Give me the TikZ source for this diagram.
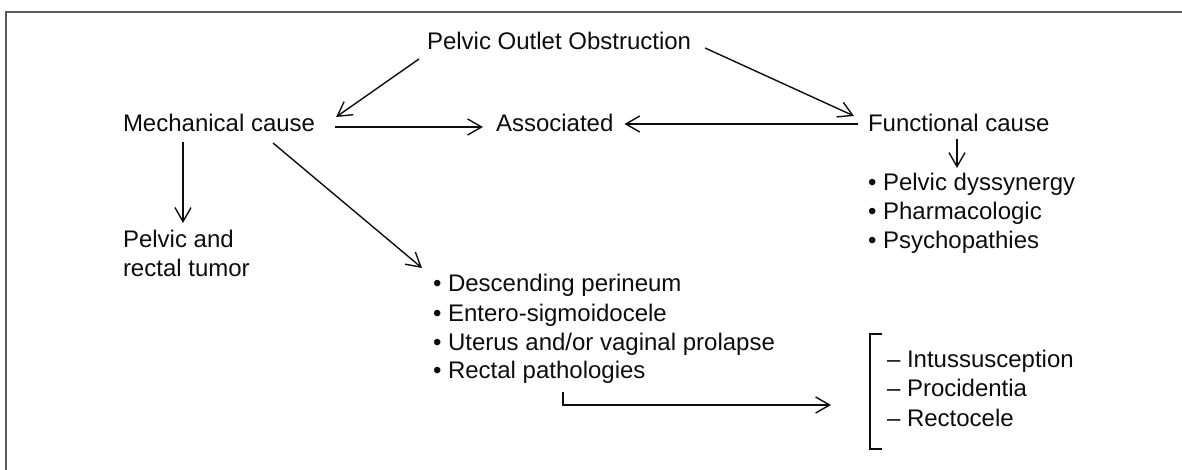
\documentclass[tikz,border=0pt]{standalone}
\usepackage{fontspec}
\setmainfont{Liberation Sans}
\usetikzlibrary{arrows.meta,calc}
\begin{document}
\begin{tikzpicture}[x=0.5pt,y=-0.5pt,
  lbl/.style={anchor=base west,inner sep=0pt,outer sep=0pt,text=black!95,
              font=\fontsize{12}{14.5}\selectfont},
  arr/.style={-{Straight Barb[length=7pt,width=8pt]},line width=0.7pt,black!95},
  link/.style={line width=0.7pt,black!95},
  frame/.style={line width=1pt,black!65}]
\useasboundingbox (0,0) rectangle (1182,470);
% open frame: left and top edges only
\draw[frame] (6,470) -- (6,12) -- (1182,12);

% labels
\node[lbl] (top)   at (427,50)  {Pelvic Outlet Obstruction};
\node[lbl] (mech)  at (123,132) {Mechanical cause};
\node[lbl] (assoc) at (496,132) {Associated};
\node[lbl] (func)  at (868,132) {Functional cause};
\node[lbl] (tumor) at (123,248) {\begin{tabular}[t]{@{}l@{}}Pelvic and\\rectal tumor\end{tabular}};
\node[lbl] (flist) at (868,191) {\begin{tabular}[t]{@{}l@{}}• Pelvic dyssynergy\\• Pharmacologic\\• Psychopathies\end{tabular}};
\node[lbl] (mlist) at (433,292) {\begin{tabular}[t]{@{}l@{}}• Descending perineum\\• Entero-sigmoidocele\\• Uterus and/or vaginal prolapse\\• Rectal pathologies\end{tabular}};
\node[lbl] (slist) at (887,367) {\renewcommand{\arraystretch}{1.03}\begin{tabular}[t]{@{}l@{}}– Intussusception\\– Procidentia\\– Rectocele\end{tabular}};

% connectors
\draw[arr] ($(top.base west)+(-8,9)$)   -- ($(mech.base east)+(21,-15)$);
\draw[arr] ($(top.base east)+(14,-2)$)  -- ($(func.base west)+(-14,-16)$);
\draw[arr] ($(mech.base east)+(20,-5)$) -- ($(assoc.base west)+(-13,-5)$);
\draw[arr] ($(func.base west)+(-10,-8)$) -- ($(assoc.base east)+(11,-8)$);
\draw[arr] ($(mech.base west)+(60,10)$) -- ($(tumor.base west)+(60,-25)$);
\draw[arr] ($(mech.base west)+(150,11)$) -- ($(mlist.base west)+(-11,-24)$);
\draw[arr] ($(func.base west)+(89,7)$)  -- ($(flist.base west)+(89,-23)$);
\draw[arr] ($(mlist.base west)+(130,100)$) |- ($(slist.base west)+(-56,38)$);

% bracket grouping the rectal pathologies
\draw[link] ($(slist.base west)+(-5,-33)$) -- ++(-12,0) -- ++(0,115) -- ++(12,0);
\end{tikzpicture}
\end{document}
